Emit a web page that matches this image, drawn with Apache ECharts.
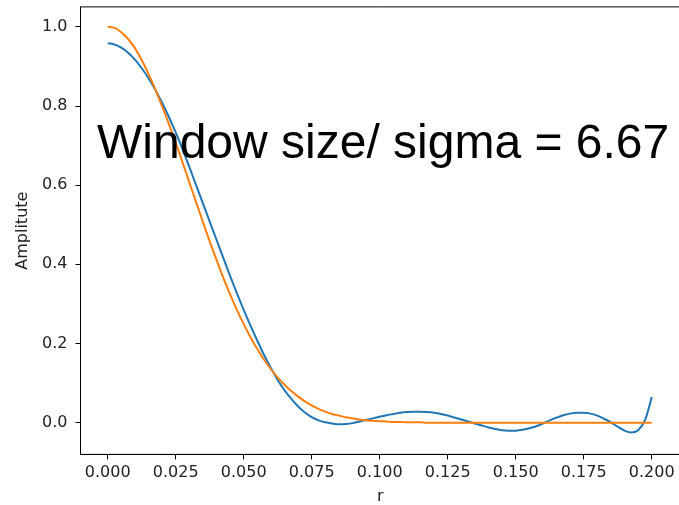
<!DOCTYPE html>
<html>
<head>
<meta charset="utf-8">
<script src="https://cdn.jsdelivr.net/npm/echarts@6/dist/echarts.min.js"></script>
<style>
html,body{margin:0;padding:0;background:#fff;}
#chart{width:679px;height:505px;}
</style>
</head>
<body>
<div id="chart"></div>
<script>
// r values (step 0.0025 from 0 to 0.2)
const rValues = [];
for (let i = 0; i <= 80; i++) rValues.push(+(i * 0.0025).toFixed(4));

const blueAmp = [
  0.958, 0.955, 0.947, 0.934, 0.917, 0.895, 0.870, 0.841, 0.808, 0.772,
  0.733, 0.691, 0.646, 0.600, 0.554, 0.508, 0.462, 0.416, 0.371, 0.327,
  0.285, 0.245, 0.207, 0.171, 0.138, 0.108, 0.082, 0.060, 0.041, 0.026,
  0.014, 0.006, 0.001, -0.002, -0.004, -0.003, -0.001, 0.003, 0.007, 0.011,
  0.015, 0.019, 0.022, 0.025, 0.027, 0.028, 0.028, 0.027, 0.025, 0.022,
  0.018, 0.013, 0.008, 0.003, -0.002, -0.007, -0.012, -0.016, -0.019, -0.020,
  -0.020, -0.018, -0.014, -0.009, -0.002, 0.006, 0.013, 0.019, 0.023, 0.025,
  0.025, 0.023, 0.018, 0.010, 0.001, -0.010, -0.020, -0.025, -0.019, 0.006,
  0.065
];

const orangeAmp = [
  1.000, 0.997, 0.986, 0.969, 0.946, 0.916, 0.881, 0.842, 0.799, 0.754,
  0.707, 0.658, 0.607, 0.557, 0.507, 0.458, 0.411, 0.366, 0.324, 0.285,
  0.249, 0.216, 0.186, 0.159, 0.135, 0.114, 0.096, 0.080, 0.066, 0.054,
  0.044, 0.035, 0.028, 0.022, 0.018, 0.014, 0.011, 0.008, 0.006, 0.005,
  0.004, 0.003, 0.002, 0.002, 0.001, 0.001, 0.001, 0.000, 0.000, 0.000,
  0.000, 0.000, 0.000, 0.000, 0.000, 0.000, 0.000, 0.000, 0.000, 0.000,
  0.000, 0.000, 0.000, 0.000, 0.000, 0.000, 0.000, 0.000, 0.000, 0.000,
  0.000, 0.000, 0.000, 0.000, 0.000, 0.000, 0.000, 0.000, 0.000, 0.000,
  0.000
];

const xTicks = [0, 0.025, 0.05, 0.075, 0.1, 0.125, 0.15, 0.175, 0.2];
const yTicks = [0, 0.2, 0.4, 0.6, 0.8, 1.0];
const annotation = 'Window size/ sigma = 6.67';
const xName = 'r';
const yName = 'Amplitute';

const chart = echarts.init(document.getElementById('chart'), null, {renderer: 'canvas'});
const axisFont = {fontFamily: 'DejaVu Sans', fontSize: 16, color: '#222'};

chart.setOption({
  animation: false,
  backgroundColor: '#fff',
  grid: {left: 80.5, right: -1, top: 6.9, bottom: 50.6, containLabel: false, outerBoundsMode: 'none',
         show: true, borderColor: '#000', borderWidth: 1, backgroundColor: 'transparent'},
  xAxis: {
    type: 'value', min: -0.01, max: 0.2104,
    name: xName, nameLocation: 'middle', nameGap: 34,
    nameTextStyle: axisFont,
    axisLine: {show: true, onZero: false, lineStyle: {color: '#000', width: 1}},
    axisTick: {show: true, length: 5, inside: false, customValues: xTicks, lineStyle: {color: '#000', width: 1}},
    axisLabel: Object.assign({margin: 10, customValues: xTicks, formatter: v => v.toFixed(3)}, axisFont),
    splitLine: {show: false}
  },
  yAxis: {
    type: 'value', min: -0.08, max: 1.05,
    name: yName, nameLocation: 'middle', nameGap: 47, nameRotate: 90,
    nameTextStyle: axisFont,
    axisLine: {show: true, onZero: false, lineStyle: {color: '#000', width: 1}},
    axisTick: {show: true, length: 5, inside: false, customValues: yTicks, lineStyle: {color: '#000', width: 1}},
    axisLabel: Object.assign({margin: 13, customValues: yTicks, formatter: v => v.toFixed(1)}, axisFont),
    splitLine: {show: false}
  },
  series: [
    {type: 'line', data: rValues.map((r, i) => [r, blueAmp[i]]), showSymbol: false, smooth: 0.3,
     lineStyle: {color: '#1f77b4', width: 2}, itemStyle: {color: '#1f77b4'}},
    {type: 'line', data: rValues.map((r, i) => [r, orangeAmp[i]]), showSymbol: false, smooth: 0.3,
     lineStyle: {color: '#ff7f0e', width: 2}, itemStyle: {color: '#ff7f0e'}}
  ],
  graphic: [{
    type: 'text', x: 97, y: 145, z: 100,
    style: {text: annotation, fontFamily: 'Liberation Sans', fontSize: 48, fill: '#000', align: 'left', verticalAlign: 'middle'}
  }]
});
</script>
</body>
</html>
